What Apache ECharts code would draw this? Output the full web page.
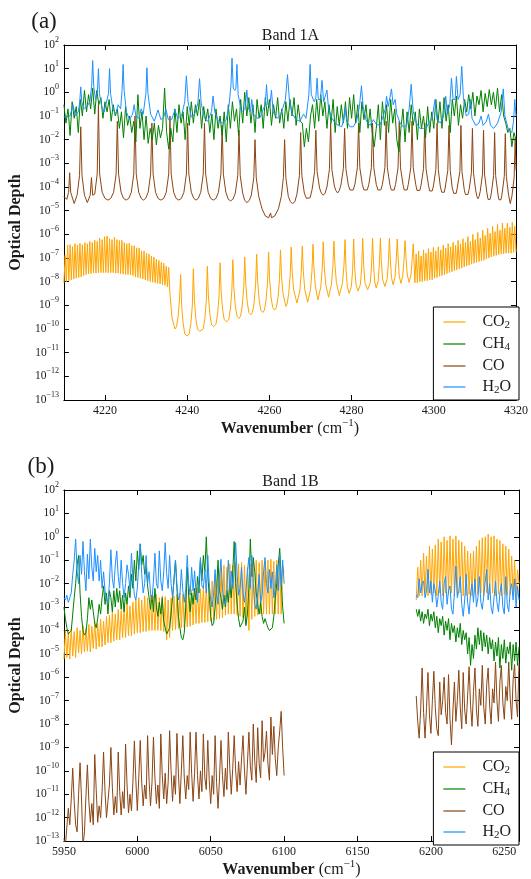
<!DOCTYPE html>
<html><head><meta charset="utf-8">
<script src="https://cdn.jsdelivr.net/npm/echarts@6/dist/echarts.min.js"></script>
<style>html,body{margin:0;padding:0;background:#fff}#c{width:531px;height:879px}</style>
</head><body><div id="c"></div>
<script>
// ---------------- Panel (a): Band 1A ----------------
const panelA_title = 'Band 1A';
const panelA_range = [4210, 4320];
// CO2: dense line forest (regular sampling), isolated lines, dense forest
const a_CO2_dense1_start = 4210, a_CO2_dense1_step = 0.3;
const a_CO2_dense1 = [9e-9,1.3e-7,1e-8,3.5e-7,1.1e-8,3.7e-7,1.2e-8,3e-7,1.3e-8,4e-7,1.4e-8,3.5e-7,1.5e-8,4.2e-7,1.6e-8,3.6e-7,1.8e-8,4.5e-7,2e-8,4e-7,
2.1e-8,5e-7,2.2e-8,4.5e-7,2.3e-8,5.6e-7,2.3e-8,5e-7,2.4e-8,7e-7,2.4e-8,6e-7,2.4e-8,8e-7,2.4e-8,8.5e-7,2.4e-8,6.5e-7,2.4e-8,6e-7,
2.4e-8,7.5e-7,2.3e-8,6e-7,2.3e-8,5.5e-7,2.2e-8,5.6e-7,2.1e-8,4.5e-7,2e-8,4e-7,2e-8,4.2e-7,1.9e-8,3.3e-7,1.8e-8,3.3e-7,1.6e-8,2.7e-7,
1.5e-8,2.6e-7,1.4e-8,2e-7,1.3e-8,2e-7,1.2e-8,1.6e-7,1.1e-8,1.5e-7,1e-8,1.2e-7,9.5e-9,1.1e-7,9e-9,9e-8,8.5e-9,8e-8,8e-9,6.5e-8,
7.5e-9,6e-8,7e-9,4.5e-8,6e-9,4e-8];
const a_CO2_lines = [[4235.8,3e-9],[4236.3,3e-10],[4237.0,1e-10],
[4237.4,1.26e-10],[4237.8,3.5e-10],[4238.15,2e-9],[4238.4,2e-8],[4238.65,1e-9],[4239.0,1.8e-10],[4239.4,6.3e-11],[4240.0,5e-11],
[4240.5,6.3e-11],[4240.9,1.8e-10],[4241.25,1e-9],[4241.5,3.5e-8],[4241.75,1.6e-9],[4242.1,2.8e-10],[4242.5,1e-10],[4243.0,8e-11],
[4243.9,1e-10],[4244.3,2.8e-10],[4244.65,1.6e-9],[4244.9,4.5e-8],[4245.15,2.5e-9],[4245.5,4.5e-10],[4245.9,1.6e-10],[4246.4,1.26e-10],
[4247.0,1.6e-10],[4247.4,4.5e-10],[4247.75,2.5e-9],[4248.0,6.3e-8],[4248.25,4e-9],[4248.6,7e-10],[4249.0,2.5e-10],[4249.6,2e-10],
[4250.1,2.5e-10],[4250.5,7e-10],[4250.85,4e-9],[4251.1,8.5e-8],[4251.35,5.6e-9],[4251.7,1e-9],[4252.1,3.5e-10],[4252.6,2.8e-10],
[4253.0,3.5e-10],[4253.4,1e-9],[4253.75,5.6e-9],[4254.0,1.1e-7],[4254.25,8e-9],[4254.6,1.4e-9],[4255.0,5e-10],[4255.5,4e-10],
[4255.9,5e-10],[4256.3,1.4e-9],[4256.65,8e-9],[4256.9,1.45e-7],[4257.15,1e-8],[4257.5,1.8e-9],[4257.9,6.3e-10],[4258.4,5e-10],
[4258.8,6.3e-10],[4259.2,1.8e-9],[4259.55,1e-8],[4259.8,1.8e-7],[4260.05,1.26e-8],[4260.4,2.2e-9],[4260.8,8e-10],[4261.3,6.3e-10],
[4261.7,8e-10],[4262.1,2.2e-9],[4262.45,1.26e-8],[4262.7,2.2e-7],[4262.95,1.8e-8],[4263.3,3.2e-9],[4264.0,9e-10],
[4264.3,1.1e-9],[4264.7,3.2e-9],[4265.05,1.8e-8],[4265.3,2.9e-7],[4265.55,2.5e-8],[4265.9,4.5e-9],[4266.7,1.26e-9],
[4267.4,4e-9],[4267.75,2.5e-8],[4268.0,3.2e-7],[4268.25,2.7e-8],[4268.6,4.7e-9],[4269.3,1.35e-9],
[4270.0,4.7e-9],[4270.35,2.7e-8],[4270.6,3.8e-7],[4270.85,3.4e-8],[4271.2,6e-9],[4271.8,1.7e-9],
[4272.5,6e-9],[4272.85,3.4e-8],[4273.1,4.8e-7],[4273.35,4.4e-8],[4273.7,7.8e-9],[4274.4,2.2e-9],
[4275.1,7.8e-9],[4275.45,4.4e-8],[4275.7,5.2e-7],[4275.95,5.2e-8],[4276.3,9.3e-9],[4277.0,2.6e-9],
[4277.8,9.3e-9],[4278.15,5.2e-8],[4278.4,6e-7],[4278.65,3.2e-8],[4278.95,6.3e-9],[4279.4,3.2e-9],
[4279.95,6.3e-9],[4280.25,3.2e-8],[4280.5,6.3e-7],[4280.75,4e-8],[4281.05,7.9e-9],[4281.6,4e-9],
[4282.15,7.9e-9],[4282.45,4e-8],[4282.7,6.8e-7],[4282.95,4.6e-8],[4283.25,9e-9],[4283.9,4.6e-9],
[4284.55,9e-9],[4284.85,4.6e-8],[4285.1,6.9e-7],[4285.35,5.4e-8],[4285.6,1.07e-8],[4286.0,5.4e-9],
[4286.45,1.07e-8],[4286.75,5.4e-8],[4287.0,6.9e-7],[4287.25,6.3e-8],[4287.55,1.26e-8],[4288.1,6.3e-9],
[4288.65,1.26e-8],[4288.95,6.3e-8],[4289.2,6.8e-7],[4289.45,7.4e-8],[4289.7,1.5e-8],[4290.1,7.4e-9],
[4290.55,1.5e-8],[4290.85,7.4e-8],[4291.1,6.3e-7],[4291.35,8.5e-8],[4291.6,1.7e-8],[4292.0,8.5e-9],
[4292.45,1.7e-8],[4292.75,8.5e-8],[4293.0,5.4e-7],[4293.25,9.3e-8],[4293.55,1.9e-8],[4294.0,9.3e-9],
[4294.45,1.9e-8],[4294.75,9.3e-8],[4295.0,4e-7],[4295.2,6e-8]];
const a_CO2_dense2_start = 4295.4, a_CO2_dense2_step = 0.3;
const a_CO2_dense2 = [9e-9,1.5e-7,9e-9,2e-7,1e-8,1.2e-7,1e-8,2.2e-7,1.1e-8,1.6e-7,1.1e-8,2.5e-7,1.2e-8,1.8e-7,1.2e-8,2.8e-7,1.4e-8,2e-7,1.5e-8,3e-7,
1.7e-8,2.2e-7,1.8e-8,3.5e-7,2e-8,2.6e-7,2.2e-8,4e-7,2.4e-8,3e-7,2.6e-8,4.6e-7,2.9e-8,3.4e-7,3.2e-8,5.5e-7,3.5e-8,4e-7,3.8e-8,6.5e-7,
4.2e-8,4.5e-7,4.6e-8,8e-7,5e-8,5e-7,5.5e-8,1e-6,6e-8,6e-7,6.5e-8,1.2e-6,7e-8,7e-7,7.5e-8,1.5e-6,8e-8,9e-7,9e-8,1.8e-6,
1e-7,1.1e-6,1.1e-7,2.2e-6,1.2e-7,1.3e-6,1.3e-7,2.6e-6,1.4e-7,1.5e-6,1.5e-7,3e-6,1.5e-7,1.8e-6,1.6e-7,3e-6,1.6e-7,2e-6,1.6e-7,3.2e-6,
1.7e-7,2.2e-6,1.8e-7];
// CH4 (regular sampling)
const a_CH4_start = 4210, a_CH4_step = 0.5;
const a_CH4 = [0.3,0.05,0.2,0.015,0.4,0.08,0.25,0.02,
0.5,0.1,1.2,0.15,0.8,0.2,1.5,0.12,1.2,0.3,
0.6,0.08,0.4,0.15,0.5,0.06,0.3,0.1,
0.2,0.03,0.15,0.012,0.25,0.04,0.1,0.02,
0.06,0.008,0.8,0.03,0.15,0.01,0.1,0.007,
0.03,0.01,0.05,0.006,0.04,0.012,0.03,1.5,0.02,0.004,0.03,0.008,
0.2,0.02,0.3,0.05,0.15,0.01,0.25,0.04,
0.4,0.05,0.3,0.1,0.5,0.03,0.25,0.06,
0.2,0.02,0.12,0.01,0.2,0.03,0.1,0.015,0.15,0.008,
0.3,0.03,0.4,0.06,0.2,0.015,0.5,0.05,1.0,0.1,
0.6,0.05,0.3,0.02,0.5,0.08,0.3,0.03,0.6,0.1,
0.5,0.04,0.3,0.08,0.6,0.05,0.2,0.03,0.4,0.06,
0.5,0.1,0.6,0.04,0.3,0.06,
0.05,0.005,0.03,0.008,0.1,
0.3,0.03,0.5,0.06,0.8,0.1,0.4,0.03,0.3,0.05,0.5,0.02,0.25,0.04,0.3,
0.05,0.4,0.03,0.6,0.08,0.8,0.05,0.3,0.02,0.4,0.07,0.3,0.03,
0.2,0.02,0.005,0.03,0.3,0.01,0.4,0.04,
0.3,0.02,0.5,0.05,0.2,0.01,
0.003,0.03,0.2,0.008,0.15,0.02,0.3,
0.04,0.15,0.01,0.2,0.03,0.1,0.012,0.25,0.02,0.15,0.03,0.5,0.05,
0.4,0.03,0.6,0.06,0.3,0.02,0.5,0.1,0.7,0.04,0.3,0.08,0.5,
0.15,0.8,0.2,1.0,0.1,0.7,0.3,1.2,0.15,0.9,0.25,1.3,
0.3,1.0,0.2,1.5,0.15,0.8,0.1,
0.05,0.02,0.03,0.005,0.02,0.01];
// CO lines (2-0 band, P and R branches)
const a_CO = [[4210,4e-5],[4210.7,3e-5],[4211.15,6e-5],[4211.4,4e-4],[4211.65,6e-5],[4212.5,2e-5],
[4213.2,4.5e-5],[4213.8,3e-4],[4214.1,3.5e-2],[4214.4,3e-4],[4215.0,4.5e-5],[4215.7,2.2e-5],
[4216.4,4.5e-5],[4216.7,2.5e-4],[4217.0,4.5e-5],[4217.5,5e-5],[4218.1,3.5e-4],[4218.4,0.3],[4218.7,3.5e-4],[4219.3,6e-5],[4220.0,3.3e-5],[4220.7,2.8e-5],
[4221.4,3.3e-5],[4222.1,6e-5],[4222.7,3.5e-4],[4223.0,6e-2],[4223.3,3.5e-4],[4223.9,6e-5],[4224.5,3.3e-5],[4225.15,2.8e-5],
[4225.8,3.3e-5],[4226.4,6e-5],[4227.0,3.5e-4],[4227.3,0.1],[4227.6,3.5e-4],[4228.2,6e-5],[4228.8,3.3e-5],[4229.35,2.8e-5],
[4229.9,3.3e-5],[4230.5,6e-5],[4231.1,3.5e-4],[4231.4,5e-2],[4231.7,3.5e-4],[4232.3,6e-5],[4232.9,3.3e-5],[4233.6,2.8e-5],
[4234.3,3.3e-5],[4234.9,6e-5],[4235.5,3.5e-4],[4235.8,0.1],[4236.1,3.5e-4],[4236.7,6e-5],[4237.3,3.3e-5],[4237.95,2.8e-5],
[4238.6,3.3e-5],[4239.2,6e-5],[4239.8,3.5e-4],[4240.1,5e-2],[4240.4,3.5e-4],[4241.0,6e-5],[4241.6,3.3e-5],[4242.15,2.8e-5],
[4242.7,3.3e-5],[4243.3,6e-5],[4243.9,3.5e-4],[4244.2,5e-2],[4244.5,3.5e-4],[4245.1,6e-5],[4245.7,3.3e-5],[4246.35,2.8e-5],
[4247.0,3.3e-5],[4247.6,6e-5],[4248.2,3.5e-4],[4248.5,4e-2],[4248.8,3.5e-4],[4249.4,6e-5],[4250.0,3e-5],[4250.55,2.6e-5],
[4251.1,3e-5],[4251.7,5.5e-5],[4252.3,3e-4],[4252.6,2.5e-2],[4252.9,3e-4],[4253.5,5.5e-5],[4254.0,2.7e-5],[4254.55,2.2e-5],
[4255.1,2.7e-5],[4255.6,4.5e-5],[4256.2,2.5e-4],[4256.5,1e-2],[4256.8,2.5e-4],[4257.4,4e-5],[4258.2,1.2e-5],[4259.0,6e-6],[4259.8,5e-6],[4260.3,8e-6],[4260.5,5e-6],[4261.3,6e-6],[4262.2,1.2e-5],[4262.9,4e-5],
[4263.4,2.5e-4],[4263.7,1e-2],[4264.0,2.5e-4],[4264.6,4e-5],[4265.1,2.4e-5],[4265.65,2e-5],
[4266.2,2.4e-5],[4266.7,5e-5],[4267.3,3e-4],[4267.6,2e-2],[4267.9,3e-4],[4268.5,5.5e-5],[4269.0,3.3e-5],[4269.45,2.8e-5],
[4269.9,3.5e-5],[4270.4,8e-5],[4271.0,4.5e-4],[4271.3,2.5e-2],[4271.6,4.5e-4],[4272.2,9e-5],[4272.65,5.5e-5],[4273.1,4.5e-5],
[4273.55,5.5e-5],[4274.0,1e-4],[4274.6,5.5e-4],[4274.9,5e-2],[4275.2,5.5e-4],[4275.8,1.1e-4],[4276.2,7e-5],[4276.6,5.6e-5],
[4277.0,7e-5],[4277.4,1.2e-4],[4278.0,6e-4],[4278.3,3e-2],[4278.6,6e-4],[4279.2,1.2e-4],[4279.6,7.5e-5],[4280.0,6.3e-5],
[4280.4,7.5e-5],[4280.8,1.3e-4],[4281.4,6.5e-4],[4281.7,5e-2],[4282.0,6.5e-4],[4282.6,1.3e-4],[4283.0,7.5e-5],[4283.4,6.3e-5],
[4283.8,7.5e-5],[4284.2,1.3e-4],[4284.8,6.5e-4],[4285.1,5e-2],[4285.4,6.5e-4],[4286.0,1.3e-4],[4286.4,7.5e-5],[4286.75,6.3e-5],
[4287.1,7.5e-5],[4287.5,1.3e-4],[4288.1,6.5e-4],[4288.4,6e-2],[4288.7,6.5e-4],[4289.3,1.3e-4],[4289.65,7.5e-5],[4290.0,6.3e-5],
[4290.35,7.5e-5],[4290.7,1.3e-4],[4291.3,6.5e-4],[4291.6,6e-2],[4291.9,6.5e-4],[4292.5,1.3e-4],[4292.8,7.5e-5],[4293.15,6.3e-5],
[4293.5,7.5e-5],[4293.8,1.3e-4],[4294.4,6.5e-4],[4294.7,6e-2],[4295.0,6.5e-4],[4295.6,1.3e-4],[4295.9,7.2e-5],[4296.25,6e-5],
[4296.6,7.2e-5],[4296.9,1.2e-4],[4297.5,6e-4],[4297.8,5e-2],[4298.1,6e-4],[4298.7,1.2e-4],[4299.0,6.8e-5],[4299.3,5.6e-5],
[4299.6,6.8e-5],[4299.9,1.1e-4],[4300.5,5.5e-4],[4300.8,5e-2],[4301.1,5.5e-4],[4301.6,1e-4],[4301.95,6e-5],[4302.25,5e-5],
[4302.55,6e-5],[4302.8,1e-4],[4303.4,5e-4],[4303.7,4e-2],[4304.0,5e-4],[4304.5,9e-5],[4304.85,5.4e-5],[4305.15,4.5e-5],
[4305.45,5.4e-5],[4305.7,9e-5],[4306.35,4.5e-4],[4306.6,4e-2],[4306.85,4.5e-4],[4307.4,8e-5],[4307.7,4.8e-5],[4308.0,4e-5],
[4308.3,4.8e-5],[4308.6,8e-5],[4309.15,4e-4],[4309.4,3e-2],[4309.65,4e-4],[4310.2,7e-5],[4310.5,3.9e-5],[4310.75,3.2e-5],
[4311.0,3.9e-5],[4311.3,6.5e-5],[4311.85,3.5e-4],[4312.1,2.5e-2],[4312.35,3.5e-4],[4312.9,6e-5],[4313.2,3e-5],[4313.45,2.5e-5],
[4313.7,3e-5],[4314.0,5.5e-5],[4314.55,3e-4],[4314.8,2e-2],[4315.05,3e-4],[4315.6,5e-5],[4315.85,2.9e-5],[4316.1,2.4e-5],
[4316.35,2.9e-5],[4316.6,5e-5],[4317.15,2.8e-4],[4317.4,1.8e-2],[4317.65,2.8e-4],[4318.2,4.5e-5],[4318.6,2e-5],
[4319.0,4e-5],[4319.55,2.5e-4],[4319.8,1.2e-2],[4320.0,5e-4]];
// H2O lines
const a_H2O = [[4210,0.09],[4211.5,0.1],[4212.2,0.3],[4212.8,0.1],[4213.5,0.15],[4213.85,0.4],[4214.1,1.7],[4214.35,0.4],[4214.8,0.2],[4215.6,0.25],[4216.3,0.4],[4216.75,1.8],[4217.0,22],[4217.25,1.8],[4217.7,0.5],[4218.15,1.0],[4218.4,10],[4218.65,0.9],[4219.2,0.25],[4219.8,0.15],[4220.2,0.3],[4220.6,0.25],[4220.85,0.9],[4221.1,10],[4221.35,0.9],[4221.9,0.2],[4222.6,0.12],[4223.2,0.3],[4223.8,0.2],[4224.15,1.2],[4224.4,15],[4224.65,1.2],[4225.2,0.15],[4226.0,0.07],[4226.7,0.12],[4227.1,0.3],[4227.5,0.1],[4228.3,0.08],[4228.8,0.2],[4229.3,0.12],[4229.95,0.9],[4230.2,11],[4230.45,0.9],[4231.1,0.12],[4232.0,0.06],[4232.9,0.18],[4233.6,0.07],[4234.3,0.09],[4234.8,0.2],[4235.4,0.07],[4236.2,0.07],[4237.0,0.18],[4237.7,0.08],[4238.6,0.1],[4239.4,0.4],[4239.8,5],[4240.2,0.4],[4241.0,0.09],[4241.8,0.12],[4242.6,0.35],[4243.0,3.8],[4243.4,0.35],[4244.2,0.08],[4245.0,0.06],[4245.9,0.15],[4246.3,0.7],[4246.7,0.15],[4247.6,0.06],[4248.6,0.05],[4249.5,0.07],[4250.2,0.3],[4250.65,2.0],[4250.9,28],[4251.2,1.5],[4251.6,1.2],[4251.85,1.5],[4252.1,15],[4252.4,0.8],[4253.2,0.15],[4254.1,0.2],[4254.5,1.25],[4254.9,0.2],[4255.4,0.15],[4255.7,0.5],[4256.1,0.12],[4257.0,0.08],[4257.8,0.09],[4258.5,0.2],[4259.0,0.3],[4259.3,2.1],[4259.6,0.3],[4260.1,0.25],[4260.5,1.25],[4260.9,0.15],[4261.8,0.08],[4262.6,0.1],[4263.2,0.2],[4263.9,0.5],[4264.4,5.6],[4264.9,0.4],[4265.6,0.12],[4266.5,0.07],[4267.4,0.06],[4268.3,0.12],[4268.9,0.08],[4269.6,0.8],[4269.9,15],[4270.2,0.8],[4270.9,0.4],[4271.3,0.6],[4271.6,4],[4271.9,0.5],[4272.4,0.5],[4272.8,3.2],[4273.2,0.4],[4273.6,0.35],[4274.0,1.25],[4274.4,0.2],[4275.2,0.08],[4276.0,0.05],[4276.8,0.04],[4277.6,0.035],[4278.1,0.07],[4278.4,0.21],[4278.8,0.06],[4279.6,0.035],[4280.4,0.035],[4281.2,0.06],[4281.9,0.25],[4282.4,1.9],[4282.8,0.25],[4283.6,0.06],[4284.5,0.04],[4285.3,0.07],[4286.0,0.045],[4286.9,0.04],[4287.7,0.1],[4288.2,0.2],[4288.5,0.68],[4288.9,0.25],[4289.3,0.3],[4289.7,1.4],[4290.1,0.3],[4290.4,0.25],[4290.6,0.5],[4291.0,0.12],[4291.8,0.05],[4292.6,0.035],[4293.4,0.04],[4294.0,0.2],[4294.5,2.2],[4295.0,0.15],[4295.8,0.05],[4296.6,0.03],[4297.5,0.03],[4298.3,0.035],[4299.0,0.06],[4299.6,0.08],[4300.3,0.5],[4300.8,0.07],[4301.6,0.05],[4302.4,0.1],[4302.9,0.68],[4303.3,0.12],[4303.9,0.3],[4304.3,4],[4304.7,0.5],[4305.2,0.5],[4305.5,4.7],[4305.9,0.5],[4306.4,0.8],[4306.8,12.5],[4307.2,0.6],[4307.9,0.1],[4308.5,0.12],[4308.9,0.5],[4309.3,0.08],[4310.2,0.04],[4311.0,0.05],[4311.5,0.1],[4312.0,0.04],[4312.8,0.06],[4313.3,0.12],[4313.8,0.04],[4314.6,0.03],[4315.5,0.05],[4316.4,0.15],[4316.9,1.4],[4317.3,0.1],[4318.2,0.025],[4319.0,0.02],[4319.4,0.06],[4319.7,0.5],[4320,0.1]];

// ---------------- Panel (b): Band 1B ----------------
const panelB_title = 'Band 1B';
const panelB_range = [5950, 6260];
const b_left_start = 5950, b_right_start = 6190, b_step = 1;
const b_CO2_left = [6e-6,1e-4,7e-6,8e-5,6e-6,1.2e-4,8e-6,9e-5,7e-6,1.3e-4,
1.1e-5,1e-4,1e-5,1.6e-4,1.2e-5,1.2e-4,1.3e-5,1.8e-4,1.2e-5,1.5e-4,
1.7e-5,2.5e-4,1.6e-5,2e-4,2e-5,3e-4,2e-5,2.5e-4,2.4e-5,4e-4,
3e-5,4.5e-4,3e-5,6e-4,3.5e-5,5e-4,4e-5,8e-4,4e-5,7e-4,
5e-5,1e-3,5e-5,1.3e-3,6e-5,1.1e-3,6e-5,1.6e-3,7e-5,2e-3,
8e-5,2.5e-3,8e-5,2e-3,9e-5,3e-3,9e-5,2.5e-3,1e-4,3.2e-3,
1e-4,3e-3,1e-4,3.5e-3,1e-4,2.5e-3,1e-4,3e-3,9e-5,2.8e-3,
4e-5,2e-3,5e-5,2.5e-3,1e-4,3e-3,1.1e-4,3.5e-3,1.2e-4,4e-3,
1.3e-4,3.5e-3,1.3e-4,5e-3,1.4e-4,4.5e-3,1.5e-4,5.5e-3,1.7e-4,6e-3,
2e-4,7e-3,2e-4,6e-3,2.2e-4,8e-3,2.2e-4,9e-3,2.4e-4,1.1e-2,
2.5e-4,1.3e-2,2.8e-4,2.5e-2,3e-4,4e-2,3.2e-4,5e-2,3.5e-4,6e-2,
4.5e-4,5e-2,5e-4,7e-2,5e-4,6e-2,5e-4,8e-2,4.5e-4,7e-2,
4e-4,8e-2,3.5e-4,6e-2,2e-4,5e-2,1e-4,7e-2,3e-4,9e-2,
4e-4,0.1,4.5e-4,8e-2,5e-4,0.1,5e-4,9e-2,5e-4,0.1,
5e-4,0.11,5e-4,9e-2,5e-4,0.1,5e-4,8e-2,5e-4,6e-2,
3e-2];
const b_CO2_right = [2e-3,5e-2,3e-3,0.1,3e-3,0.2,4e-3,0.15,3e-3,0.4,
3.5e-3,0.3,4e-3,0.45,3e-3,0.8,4e-3,0.6,3e-3,1.0,
4e-3,0.7,3.5e-3,1.1,4e-3,0.8,3e-3,1.1,3.5e-3,0.7,
4e-3,0.6,3e-3,0.4,3e-3,0.25,3.5e-3,0.2,3e-3,0.25,
4e-3,0.4,3.5e-3,0.7,4e-3,0.9,3e-3,1.0,4e-3,1.3,
3.5e-3,1.0,4e-3,1.1,3e-3,0.8,3.5e-3,0.7,3e-3,0.5,
3.5e-3,0.4,3e-3,0.3,3.5e-3,0.15,3e-3,0.1,3e-3,0.04,
1e-2];
const b_CH4_left = [1e-3,3.2e-4,1.3e-4,7e-5,6.3e-5,1e-4,5e-4,2.5e-3,1e-2,6.3e-2,
0.16,4e-3,4e-4,1e-4,6.3e-5,8e-5,3.2e-4,2.5e-3,8e-4,2e-3,
6.3e-4,2e-4,1.3e-4,3.2e-4,1.3e-3,5e-4,2.5e-3,8e-3,1.3e-3,4e-3,
5e-4,5e-3,2.5e-3,6.3e-4,5e-3,1e-3,6.3e-3,1.6e-3,5e-3,8e-4,
3.2e-3,6.3e-4,4e-3,1.3e-3,8e-3,2.5e-3,2.5e-2,6.3e-3,0.1,1.3e-2,
0.25,4e-2,0.5,6.3e-2,0.16,2.5e-2,5e-2,8e-3,2.5e-3,8e-4,
3.2e-3,6.3e-4,6.3e-3,1e-3,4e-4,1.6e-3,5e-4,2.5e-3,2.5e-4,1.3e-4,
7e-5,6.3e-5,1.3e-4,5e-4,2.5e-3,1.6e-2,0.1,6.3e-3,4e-4,1.3e-4,
5e-5,4e-5,8e-5,1e-3,5e-2,3.2e-3,6.3e-4,4e-3,1.3e-3,6.3e-3,
2e-3,2e-2,4e-3,0.1,1.3e-2,0.16,3.2e-2,1,2.5e-2,3.2e-3,
4e-4,1.6e-4,2e-4,1e-3,6.3e-3,0.1,5e-3,2.5e-3,8e-4,3.2e-3,
1e-3,5e-3,1.6e-3,1e-2,2.5e-3,3.2e-2,0.63,1e-2,1.3e-3,3.2e-4,
1.4e-4,1.3e-4,2.5e-4,1e-3,1.6e-4,5e-4,6.3e-3,0.8,2e-2,0.13,
3.2e-2,4e-3,1.3e-3,5e-4,1.6e-3,4e-4,2e-4,3.2e-4,2e-4,1.3e-4,
1e-4,9e-5,1.3e-4,4e-4,2.5e-3,1e-2,6.3e-2,0.32,1.6e-2,1e-3,
2e-4];
const b_CH4_right = [8e-4,4e-4,8e-4,2.5e-4,6.3e-4,2e-4,5e-4,3.2e-4,8e-4,1.6e-4,
5e-4,2.5e-4,6.3e-4,1.3e-4,4e-4,8e-5,3.2e-4,1.6e-4,4e-4,6.3e-5,
2.5e-4,1e-4,3.2e-4,4e-5,2e-4,8e-5,1.6e-4,3.2e-5,1.3e-4,5e-5,
2e-4,2.5e-5,1e-4,4e-5,8e-5,1e-5,5e-5,3.2e-6,2.5e-5,6.3e-6,
6.3e-5,1.6e-5,1.3e-4,2.5e-5,1e-4,1.3e-5,8e-5,2e-5,6.3e-5,1e-5,
5e-5,1.6e-5,4e-5,5e-6,3.2e-5,8e-6,5e-5,2.5e-6,2.5e-5,6.3e-6,
4e-5,4e-6,2e-5,1e-5,3.2e-5,2e-6,2.5e-5,5e-6,3.2e-5,3.2e-6,
2e-5];
const b_CO_left = [1.3e-13,6e-14,4e-13,2.5e-12,5e-13,6.3e-12,1.3e-10,5e-12,5e-13,2.5e-13,
1e-11,2.2e-10,6.3e-12,6e-14,2.5e-13,8e-12,1.8e-10,5e-12,6.3e-13,4e-12,
5e-13,5e-10,1.6e-11,6.3e-13,3.2e-12,1e-12,1.3e-11,6.3e-10,1.3e-11,1e-12,
5e-12,2.5e-11,1e-9,2e-11,1.3e-12,8e-12,1.6e-12,6.3e-10,1.3e-11,1.3e-12,
1.3e-11,2.5e-12,1.4e-9,2.5e-11,1.6e-12,1e-11,2e-12,3.2e-11,1.9e-9,4e-11,
2e-12,5e-11,2e-9,3.2e-11,3.2e-12,2.5e-11,6.3e-12,3.2e-9,4e-11,3.2e-12,
3.2e-11,2.8e-9,5e-11,4e-12,2.5e-11,2.5e-12,3.8e-9,6.3e-11,6.3e-12,8e-11,
4e-12,3.2e-11,5.2e-9,1e-10,5e-12,6.3e-11,1e-11,4e-9,8e-11,4e-12,
1e-10,3.2e-9,5e-11,6.3e-12,6.3e-11,1.6e-11,4.5e-9,8e-11,5e-12,8e-11,
4.5e-9,6.3e-11,6.3e-12,1e-10,1.3e-11,3.8e-9,5e-11,1.6e-11,2e-9,4e-11,
4e-12,6.3e-11,1e-11,3.2e-9,3.2e-11,2.5e-12,5e-11,2e-9,6.3e-11,8e-12,
1.3e-10,1.6e-11,4.5e-9,1.3e-10,1e-11,1.3e-10,3.2e-9,1e-10,1.3e-11,2.5e-10,
2.5e-11,3.2e-10,3.2e-9,1e-10,1e-11,2e-10,4.5e-9,1.6e-10,4e-11,1e-8,
2.5e-10,3.2e-11,7e-9,2e-10,5e-11,1.4e-8,2.5e-10,6.3e-10,5e-9,2e-10,
4e-11,2e-8,5e-10,8e-9,3.2e-10,6.3e-11,1e-9,5e-9,3.5e-8,1e-9,
6.3e-11];
const b_CO_right = [1.6e-7,1.3e-8,2.5e-9,4e-8,2.5e-6,3.2e-8,2.5e-9,5e-8,1.6e-6,2.5e-8,
4e-9,1e-7,1.8e-6,5e-8,6.3e-9,3.2e-9,6.3e-7,2.5e-8,1e-7,1e-6,
3.2e-8,1e-8,1.3e-6,1.6e-8,1.3e-9,4e-8,6.3e-7,1.3e-8,1e-7,2e-6,
5e-8,6.3e-9,1.6e-6,4e-8,1e-8,1.6e-7,2.8e-6,6.3e-8,8e-9,2.5e-7,
2.5e-6,4e-8,8e-9,3.2e-7,6.3e-8,3.2e-6,5e-8,1e-8,5e-7,2.5e-6,
6.3e-8,1e-8,3.2e-7,8e-8,4.5e-6,1e-7,1.3e-8,6.3e-7,3.2e-6,8e-8,
1.6e-8,4e-7,1e-7,4.5e-6,1.3e-7,1.6e-8,8e-7,3.5e-6,1e-7,2e-8,
4e-6];
const b_H2O_left = [2.5e-3,2e-3,3.2e-3,1.6e-3,2.5e-3,4e-3,2.5e-2,0.1,0.8,3.2e-2,
1e-2,0.16,2.5e-2,0.63,3.2e-2,5e-3,0.18,1.6e-2,0.8,5e-2,
1.3e-2,0.32,3.2e-2,0.16,1.3e-2,0.1,6.3e-3,3.2e-2,5e-3,2e-3,
1.6e-3,1e-2,0.28,1.6e-2,6.3e-3,6.3e-2,0.25,2e-2,6.3e-3,0.1,
1e-2,2.5e-3,1e-2,6.3e-2,2.5e-2,5e-3,0.2,1.6e-2,3.2e-3,2e-3,
6.3e-3,6.3e-2,0.5,2.5e-2,4e-3,1e-2,0.16,1e-2,3.2e-2,4e-3,
2e-3,1.3e-2,0.2,1e-2,6.3e-3,0.25,1.3e-2,5e-3,3.2e-2,0.56,
2.5e-2,6.3e-3,0.16,1e-2,2.5e-3,1.3e-2,0.1,8e-3,2e-3,3.2e-3,
4e-2,5e-3,1.6e-3,6.3e-3,0.16,1e-2,3.2e-3,5e-2,5e-3,3.5e-2,
4e-3,1.6e-3,1.6e-2,0.13,8e-3,6.3e-3,4e-2,4e-3,0.16,1e-2,
2e-3,1e-3,4e-3,4e-2,3.2e-3,1.3e-3,2e-2,0.11,6.3e-3,1.6e-3,
1.3e-3,6.3e-3,0.1,5e-3,3.5e-2,6.3e-3,3.2e-2,0.56,2.5e-2,3.2e-3,
6.3e-3,5e-2,4e-3,1.6e-3,5e-3,3.2e-2,0.13,6.3e-3,0.16,1e-2,
1.3e-3,8e-4,4e-3,2.5e-2,1.6e-3,3.2e-3,3.2e-2,0.13,1e-2,4e-3,
4e-2,6.3e-3,3.2e-2,2.5e-3,6.3e-3,6.3e-2,5e-3,0.18,8e-3,0.1,
1e-2];
const b_H2O_right = [3.2e-3,2.5e-3,1.6e-2,4e-3,1e-2,1.3e-2,2.5e-3,5e-3,4e-2,4e-3,
1.3e-2,1.6e-3,1e-2,5e-3,1e-3,3.2e-3,1.3e-2,1.6e-3,8e-4,1e-2,
2e-2,1.3e-3,5e-3,8e-3,8e-4,5e-4,4e-3,5.6e-2,2.5e-3,5e-3,
2e-2,1.3e-3,4e-4,2e-3,2.5e-2,1.6e-3,5e-4,4e-3,1e-2,1.6e-3,
1.6e-2,1e-3,2.5e-3,2e-2,1.6e-3,8e-4,3.2e-3,1.3e-2,4e-2,2e-3,
1e-2,1e-3,5e-4,2.5e-3,1.3e-2,1.6e-3,6.3e-4,4e-3,1e-2,1e-3,
5e-4,2e-2,1.3e-3,6.3e-4,5e-3,1e-2,2e-3,1.6e-2,1e-3,8e-3,
2e-3];

// ---------------- shared ----------------
const speciesNames = ['CO2', 'CH4', 'CO', 'H2O'];
const speciesColors = { CO2: '#FFA500', CH4: '#008000', CO: '#8B4513', H2O: '#1E90FF' };
const yLogRange = [1e-13, 1e2];

const FONT = '"Liberation Serif", "DejaVu Serif", serif';
const INK = '#1a1a1a';

function sampled(start, step, ys) { return ys.map((y, i) => [Math.round((start + i * step) * 1000) / 1000, y]); }

const dataA = {
  CO2: sampled(a_CO2_dense1_start, a_CO2_dense1_step, a_CO2_dense1).concat(a_CO2_lines, sampled(a_CO2_dense2_start, a_CO2_dense2_step, a_CO2_dense2)),
  CH4: sampled(a_CH4_start, a_CH4_step, a_CH4),
  CO: a_CO,
  H2O: a_H2O
};
const dataB = {
  CO2: [sampled(b_left_start, b_step, b_CO2_left), sampled(b_right_start, b_step, b_CO2_right)],
  CH4: [sampled(b_left_start, b_step, b_CH4_left), sampled(b_right_start, b_step, b_CH4_right)],
  CO: [sampled(b_left_start, b_step, b_CO_left), sampled(b_right_start, b_step, b_CO_right)],
  H2O: [sampled(b_left_start, b_step, b_H2O_left), sampled(b_right_start, b_step, b_H2O_right)]
};

const sup = e => (e < 0 ? '\u2212' + (-e) : '' + e);
const yRich = {
  b: { fontFamily: FONT, fontSize: 11.5, color: INK, lineHeight: 18 },
  s: { fontFamily: FONT, fontSize: 8, color: INK, lineHeight: 9, verticalAlign: 'top' }
};
const nameRich = {
  b: { fontFamily: FONT, fontSize: 16, fontWeight: 'bold', color: INK, lineHeight: 22 },
  r: { fontFamily: FONT, fontSize: 16, color: INK, lineHeight: 22 },
  s: { fontFamily: FONT, fontSize: 11, color: INK, lineHeight: 12, verticalAlign: 'top' }
};

const tick = { show: true, inside: true, length: 5, lineStyle: { color: '#000', width: 1 } };
const line = { show: true, onZero: false, lineStyle: { color: '#000', width: 1 } };

function xPair(gi, range, showMin, showMax) {
  return [
    { gridIndex: gi, type: 'value', min: range[0], max: range[1], position: 'bottom', splitLine: { show: false },
      axisLine: line, axisTick: tick,
      axisLabel: { fontFamily: FONT, fontSize: 12, color: INK, margin: 5, showMinLabel: showMin, showMaxLabel: showMax,
        formatter: v => String(Math.round(v)) },
      name: '{b|Wavenumber}{r| (cm}{s|\u22121}{r|)}', nameLocation: 'middle', nameGap: 15,
      nameTextStyle: { rich: nameRich } },
    { gridIndex: gi, type: 'value', min: range[0], max: range[1], position: 'top', splitLine: { show: false },
      axisLine: line, axisTick: tick, axisLabel: { show: false } }
  ];
}
function yPair(gi) {
  return [
    { gridIndex: gi, type: 'log', logBase: 10, min: yLogRange[0], max: yLogRange[1], interval: 1, position: 'left',
      splitLine: { show: false }, axisLine: line, axisTick: tick,
      axisLabel: { margin: 5, formatter: v => '{b|10}{s|' + sup(Math.round(Math.log10(v))) + '}', rich: yRich },
      name: 'Optical Depth', nameLocation: 'middle', nameGap: 30,
      nameTextStyle: { fontFamily: FONT, fontSize: 16, fontWeight: 'bold', color: INK } },
    { gridIndex: gi, type: 'log', logBase: 10, min: yLogRange[0], max: yLogRange[1], interval: 1, position: 'right',
      splitLine: { show: false }, axisLine: line, axisTick: tick, axisLabel: { show: false } }
  ];
}

const drawOrder = ['CO2', 'CO', 'CH4', 'H2O'];
function mkSeries(name, xi, yi, data) {
  return { type: 'line', name, xAxisIndex: xi, yAxisIndex: yi, data, symbol: 'none', showSymbol: false,
    silent: true, animation: false, clip: true,
    lineStyle: { color: speciesColors[name], width: 1 }, itemStyle: { color: speciesColors[name] } };
}
const series = [];
drawOrder.forEach(n => series.push(mkSeries(n, 0, 0, dataA[n])));
drawOrder.forEach(n => dataB[n].forEach(d => series.push(mkSeries(n, 2, 2, d))));

const legendFmt = n => ({ CO2: '{t|CO}{d|2}', CH4: '{t|CH}{d|4}', CO: '{t|CO}', H2O: '{t|H}{d|2}{t|O}' })[n];
function mkLegend(bottom) {
  return { data: speciesNames.map(n => ({ name: n, icon: 'rect' })), orient: 'vertical', right: 12, bottom,
    itemWidth: 22, itemHeight: 2, itemGap: 5,
    padding: [7, 8, 4, 10], borderColor: '#000', borderWidth: 1, backgroundColor: '#fff', selectedMode: false,
    itemStyle: { opacity: 0.6, borderWidth: 0 }, formatter: legendFmt,
    textStyle: { padding: [0, 0, 0, 12], rich: {
      t: { fontFamily: FONT, fontSize: 16, color: INK, lineHeight: 18 },
      d: { fontFamily: FONT, fontSize: 11, color: INK, lineHeight: 11, verticalAlign: 'bottom' } } } };
}

const txt = (x, y, text, size) => ({ type: 'text', x, y, silent: true,
  style: { text, fontFamily: FONT, fontSize: size, fill: INK, align: 'center', verticalAlign: 'middle' } });

const chart = echarts.init(document.getElementById('c'), null, { renderer: 'canvas' });
chart.setOption({
  animation: false,
  backgroundColor: '#fff',
  grid: [ { left: 62, top: 45, width: 457, height: 355 }, { left: 62, top: 490, width: 457, height: 355 } ],
  xAxis: xPair(0, panelA_range, false, true).concat(xPair(1, panelB_range, true, false)),
  yAxis: yPair(0).concat(yPair(1)),
  legend: [ mkLegend(479), mkLegend(34) ],
  graphic: [ txt(44, 22, '(a)', 23), txt(290.5, 36, panelA_title, 16), txt(41, 467, '(b)', 23), txt(290.5, 482, panelB_title, 16) ],
  series
});
</script></body></html>
